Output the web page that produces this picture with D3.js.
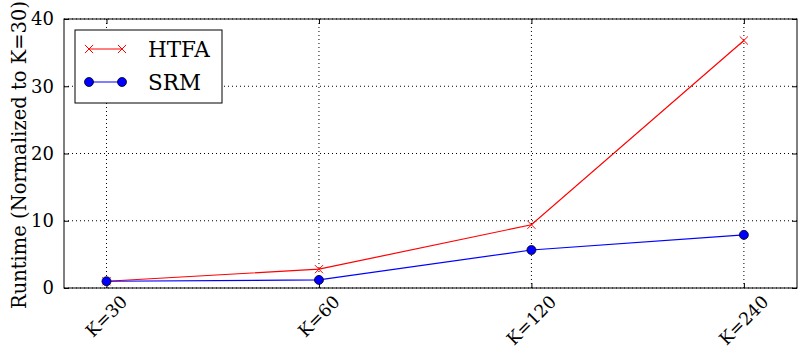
<!DOCTYPE html>
<html>
<head>
<meta charset="utf-8">
<script src="https://cdn.jsdelivr.net/npm/d3@7"></script>
<style>
  body { margin: 0; background: #fff; }
  text { font-family: 'DejaVu Serif', serif; }
</style>
</head>
<body>
<div id="container"></div>
<script>
const w = 799,
  h = 348;

const categories = ['K=30', 'K=60', 'K=120', 'K=240'];
const htfa = [1.0, 2.8, 9.4, 36.8];
const srm = [1.0, 1.2, 5.65, 7.9];
const yTicks = [0, 10, 20, 30, 40];

const padL = 64, padR = 797, padT = 19, padB = 288;

const svg = d3.select('#container').append('svg').attr('width', w).attr('height', h);

const x = d3.scaleLinear().domain([-0.2, 3.25]).range([padL, padR]);
const y = d3.scaleLinear().domain([0, 40]).range([padB, padT]);

// grid
const grid = svg.append('g');
grid.selectAll('.gx')
  .data(categories)
  .enter()
  .append('line')
  .attr('x1', (d, i) => x(i)).attr('x2', (d, i) => x(i))
  .attr('y1', padT).attr('y2', padB)
  .attr('stroke', '#000').attr('stroke-width', 1).attr('stroke-dasharray', '1,3');
grid.selectAll('.gy')
  .data(yTicks)
  .enter()
  .append('line')
  .attr('x1', padL).attr('x2', padR)
  .attr('y1', (d) => y(d)).attr('y2', (d) => y(d))
  .attr('stroke', '#000').attr('stroke-width', 1).attr('stroke-dasharray', '1,3');

// axes (ticks inward, mirrored)
const yAxis = d3.axisLeft(y).tickValues(yTicks).tickSizeInner(-5).tickSizeOuter(0).tickPadding(10);
const gy = svg.append('g').attr('transform', 'translate(' + padL + ',0)').call(yAxis);
gy.selectAll('text').style('font-size', '18px').attr('fill', '#000').style('font-family', 'DejaVu Serif');
gy.select('.domain').remove();

const yAxisR = d3.axisRight(y).tickValues(yTicks).tickSizeInner(-5).tickSizeOuter(0).tickFormat('');
const gyr = svg.append('g').attr('transform', 'translate(' + padR + ',0)').call(yAxisR);
gyr.select('.domain').remove();

const xIdx = categories.map((d, i) => i);
const xAxis = d3.axisBottom(x).tickValues(xIdx).tickSizeInner(-5).tickSizeOuter(0).tickFormat('');
const gx = svg.append('g').attr('transform', 'translate(0,' + padB + ')').call(xAxis);
gx.select('.domain').remove();
const xAxisT = d3.axisTop(x).tickValues(xIdx).tickSizeInner(-5).tickSizeOuter(0).tickFormat('');
const gxt = svg.append('g').attr('transform', 'translate(0,' + padT + ')').call(xAxisT);
gxt.select('.domain').remove();

// x tick labels rotated 45
categories.forEach((c, i) => {
  const t = svg.append('text')
    .text(c)
    .attr('text-anchor', 'middle')
    .attr('dominant-baseline', 'central')
    .style('font-size', '17.5px');
  const bb = t.node().getBBox();
  const bh = (bb.width + bb.height * 0.8) / Math.SQRT2;
  t.attr('transform', 'translate(' + x(i) + ',' + (293 + bh / 2) + ') rotate(-45)');
});

// frame
svg.append('rect')
  .attr('x', padL).attr('y', padT)
  .attr('width', padR - padL).attr('height', padB - padT)
  .attr('fill', 'none').attr('stroke', '#000').attr('stroke-width', 1);

// y label
svg.append('text')
  .text('Runtime (Normalized to K=30)')
  .attr('text-anchor', 'middle')
  .attr('transform', 'translate(26,155) rotate(-90)')
  .style('font-size', '19.5px');

const line = d3.line().x((d, i) => x(i)).y((d) => y(d));

// HTFA
svg.append('path').datum(htfa).attr('d', line)
  .attr('fill', 'none').attr('stroke', '#ff0000').attr('stroke-width', 1.2);
const cross = d3.symbol().type(d3.symbolX).size(45);
svg.selectAll('.htfa')
  .data(htfa)
  .enter()
  .append('path')
  .attr('d', cross)
  .attr('transform', (d, i) => 'translate(' + x(i) + ',' + y(d) + ')')
  .attr('fill', 'none').attr('stroke', '#ff0000').attr('stroke-width', 1);

// SRM
svg.append('path').datum(srm).attr('d', line)
  .attr('fill', 'none').attr('stroke', '#0000ff').attr('stroke-width', 1.2);
svg.selectAll('.srm')
  .data(srm)
  .enter()
  .append('circle')
  .attr('cx', (d, i) => x(i))
  .attr('cy', (d) => y(d))
  .attr('r', 4.5)
  .attr('fill', '#0000ff').attr('stroke', '#000').attr('stroke-width', 0.8);

// legend
const lg = svg.append('g');
lg.append('rect')
  .attr('x', 75).attr('y', 30).attr('width', 147).attr('height', 73)
  .attr('fill', '#fff').attr('stroke', '#000').attr('stroke-width', 1);
lg.append('line').attr('x1', 89).attr('x2', 122).attr('y1', 49).attr('y2', 49)
  .attr('stroke', '#ff0000').attr('stroke-width', 1.2);
[89, 122].forEach((px) => {
  lg.append('path').attr('d', cross).attr('transform', 'translate(' + px + ',49)')
    .attr('fill', 'none').attr('stroke', '#ff0000').attr('stroke-width', 1);
});
lg.append('text').text('HTFA').attr('x', 148).attr('y', 57).style('font-size', '21.5px');
lg.append('line').attr('x1', 89).attr('x2', 122).attr('y1', 82).attr('y2', 82)
  .attr('stroke', '#0000ff').attr('stroke-width', 1.2);
[89, 122].forEach((px) => {
  lg.append('circle').attr('cx', px).attr('cy', 82).attr('r', 4.5)
    .attr('fill', '#0000ff').attr('stroke', '#000').attr('stroke-width', 0.8);
});
lg.append('text').text('SRM').attr('x', 148).attr('y', 90).style('font-size', '21.5px');
</script>
</body>
</html>
